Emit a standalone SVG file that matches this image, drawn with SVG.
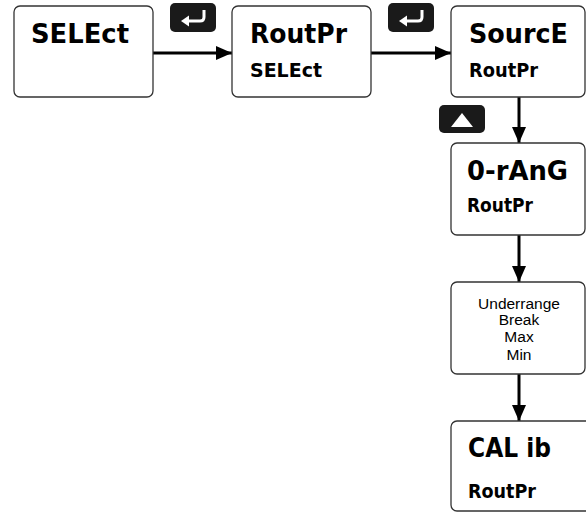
<svg xmlns="http://www.w3.org/2000/svg" width="586" height="512" viewBox="0 0 586 512">
<defs>
<style>
.box{fill:#fff;stroke:#333;stroke-width:1.3}
.seg{font-family:"DejaVu Sans","Liberation Sans",sans-serif;font-weight:bold;fill:#000}
.big{font-size:26px}
.small{font-size:19px}
.lbl{font-family:"Liberation Sans",Arial,sans-serif;font-size:15.5px;fill:#000;text-anchor:middle}
.conn{stroke:#000;stroke-width:3;fill:none}
.btn{fill:#1a1a1a}
</style>
<marker id="ah" markerWidth="16" markerHeight="14" refX="16" refY="7" orient="auto" markerUnits="userSpaceOnUse">
<path d="M0,0 L16,7 L0,14 Z" fill="#000"/>
</marker>
</defs>
<rect width="586" height="512" fill="#fff"/>
<g id="connectors">
<line class="conn" x1="153" y1="53" x2="232" y2="53" marker-end="url(#ah)"/>
<line class="conn" x1="371" y1="53" x2="451" y2="53" marker-end="url(#ah)"/>
<line class="conn" x1="519" y1="97" x2="519" y2="143" marker-end="url(#ah)"/>
<line class="conn" x1="519" y1="235" x2="519" y2="282" marker-end="url(#ah)"/>
<line class="conn" x1="519" y1="374" x2="519" y2="421" marker-end="url(#ah)"/>
</g>
<g id="enter1">
<rect class="btn" x="170" y="3" width="46" height="29" rx="5"/>
<path d="M204,10 V17 Q204,21 200,21 H187" stroke="#fff" stroke-width="3" fill="none"/>
<path d="M181,21 L189,15.5 L189,26.5 Z" fill="#fff"/>
</g>
<g id="enter2">
<rect class="btn" x="388" y="3" width="46" height="29" rx="5"/>
<path d="M422,10 V17 Q422,21 418,21 H405" stroke="#fff" stroke-width="3" fill="none"/>
<path d="M399,21 L407,15.5 L407,26.5 Z" fill="#fff"/>
</g>
<g id="up">
<rect class="btn" x="439" y="105" width="46" height="28" rx="5"/>
<path d="M451,127 L462,113 L473,127 Z" fill="#fff"/>
</g>
<g id="n1">
<rect class="box" x="14" y="6" width="139" height="91" rx="6"/>
<text class="seg big" x="31" y="43" textLength="98" lengthAdjust="spacingAndGlyphs">SELEct</text>
</g>
<g id="n2">
<rect class="box" x="232" y="6" width="139" height="91" rx="6"/>
<text class="seg big" x="250" y="43" textLength="97" lengthAdjust="spacingAndGlyphs">RoutPr</text>
<text class="seg small" x="250" y="77" textLength="72" lengthAdjust="spacingAndGlyphs">SELEct</text>
</g>
<g id="n3">
<rect class="box" x="451" y="6" width="134" height="91" rx="6"/>
<text class="seg big" x="469" y="43" textLength="99" lengthAdjust="spacingAndGlyphs">SourcE</text>
<text class="seg small" x="469" y="77" textLength="69" lengthAdjust="spacingAndGlyphs">RoutPr</text>
</g>
<g id="n4">
<rect class="box" x="451" y="143" width="134" height="92" rx="6"/>
<text class="seg big" x="467" y="180" textLength="101" lengthAdjust="spacingAndGlyphs">0-rAnG</text>
<text class="seg small" x="467" y="212" textLength="66" lengthAdjust="spacingAndGlyphs">RoutPr</text>
</g>
<g id="n5">
<rect class="box" x="451" y="282" width="134" height="92" rx="6"/>
<text class="lbl" x="519" y="308.5">Underrange</text>
<text class="lbl" x="519" y="325">Break</text>
<text class="lbl" x="519" y="342">Max</text>
<text class="lbl" x="519" y="359.5">Min</text>
</g>
<g id="n6">
<rect class="box" x="451" y="421" width="150" height="90" rx="6"/>
<text class="seg big" x="468" y="457" textLength="83" lengthAdjust="spacingAndGlyphs">CAL ib</text>
<text class="seg small" x="468" y="498" textLength="68" lengthAdjust="spacingAndGlyphs">RoutPr</text>
</g>
</svg>
